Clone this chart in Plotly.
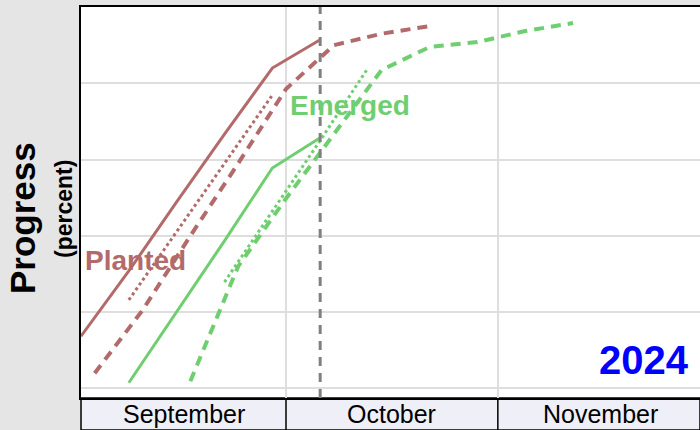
import pandas as pd
import plotly.graph_objects as go

# ---------------- data ----------------
year_label = "2024"
current_week = "2024-10-06"

planted_cur_dates = ["2024-09-01", "2024-09-08", "2024-09-15", "2024-09-22", "2024-09-29", "2024-10-06"]
planted_cur_vals = [13.7, 30.8, 48.9, 66.7, 84.0, 91.4]

planted_dot_dates = ["2024-09-08", "2024-09-15", "2024-09-22", "2024-09-29"]
planted_dot_vals = [23.2, 41.0, 59.0, 76.9]

planted_dash_dates = ["2024-09-03", "2024-09-10", "2024-09-17", "2024-09-24", "2024-10-01",
                      "2024-10-08", "2024-10-15", "2024-10-22"]
planted_dash_vals = [4.0, 20.5, 40.0, 59.0, 78.5, 90.0, 93.0, 95.0]

emerged_cur_dates = ["2024-09-08", "2024-09-15", "2024-09-22", "2024-09-29", "2024-10-06"]
emerged_cur_vals = [1.5, 20.0, 38.7, 57.8, 65.7]

emerged_dot_dates = ["2024-09-22", "2024-09-29", "2024-10-06", "2024-10-13"]
emerged_dot_vals = [27.9, 46.5, 65.0, 84.0]

emerged_dash_dates = ["2024-09-17", "2024-09-24", "2024-10-01", "2024-10-08", "2024-10-15",
                      "2024-10-22", "2024-10-29", "2024-11-05", "2024-11-12"]
emerged_dash_vals = [1.9, 32.0, 49.8, 66.8, 83.5, 89.5, 90.8, 93.7, 95.8]

x_range = ["2024-09-01", "2024-11-30 14:00"]
y_range = [-2.5, 100]
month_starts = ["2024-09-01", "2024-10-01", "2024-11-01", "2024-12-01"]
month_labels = ["September", "October", "November"]

# ---------------- style ----------------
PLANT = "#b36a6a"
EMERG = "#6fce6f"
FONT = "Liberation Sans, Arial, sans-serif"

fig = go.Figure()

def add(dates, vals, color, dash, width):
    fig.add_trace(go.Scatter(x=dates, y=vals, mode="lines",
                             line=dict(color=color, width=width, dash=dash),
                             showlegend=False, hoverinfo="skip"))

add(planted_dash_dates, planted_dash_vals, PLANT, "10px,7px", 4)
add(planted_dot_dates, planted_dot_vals, PLANT, "3px,3px", 3)
add(planted_cur_dates, planted_cur_vals, PLANT, "solid", 3)
add(emerged_dash_dates, emerged_dash_vals, EMERG, "10px,7px", 4)
add(emerged_dot_dates, emerged_dot_vals, EMERG, "3px,3px", 3)
add(emerged_cur_dates, emerged_cur_vals, EMERG, "solid", 3)

W, H = 700, 430
ml, mr, mt, mb = 81, 0, 7, 32
ph = H - mt - mb
band = mb / ph

shapes = [
    dict(type="rect", xref="paper", yref="paper", x0=0, x1=1, y0=-band, y1=0,
         fillcolor="#efeff7", line=dict(color="black", width=1.5), layer="below"),
    dict(type="line", xref="x", yref="y", x0=current_week, x1=current_week,
         y0=y_range[0], y1=y_range[1], line=dict(color="#808080", width=3, dash="9px,7px")),
]
for m in month_starts[1:-1]:
    shapes.append(dict(type="line", xref="x", yref="paper", x0=m, x1=m, y0=-band, y1=0,
                       line=dict(color="black", width=1.5)))

annotations = [
    dict(text="<b>Progress</b>", xref="paper", yref="paper", x=-59 / 619, y=(398 - 218) / ph,
         showarrow=False, textangle=-90, font=dict(size=35, color="black", family=FONT),
         xanchor="center", yanchor="middle"),
    dict(text="<b>(percent)</b>", xref="paper", yref="paper", x=-17 / 619, y=(398 - 209) / ph,
         showarrow=False, textangle=-90, font=dict(size=23, color="black", family=FONT),
         xanchor="center", yanchor="middle"),
    dict(text="<b>Planted</b>", xref="paper", yref="paper", x=2 / 619, y=(398 - 260) / ph,
         showarrow=False, font=dict(size=28, color=PLANT, family=FONT),
         xanchor="left", yanchor="middle"),
    dict(text="<b>Emerged</b>", xref="paper", yref="paper", x=(288 - 81) / 619, y=(398 - 105) / ph,
         showarrow=False, font=dict(size=28, color=EMERG, family=FONT),
         xanchor="left", yanchor="middle"),
    dict(text="<b>" + year_label + "</b>", xref="paper", yref="paper", x=(691 - 81) / 619,
         y=(398 - 360) / ph, showarrow=False, font=dict(size=40, color="#0000ff", family=FONT),
         xanchor="right", yanchor="middle"),
]
for i, name in enumerate(month_labels):
    a = pd.Timestamp(month_starts[i])
    b = pd.Timestamp(month_starts[i + 1])
    mid = a + (b - a) / 2
    annotations.append(dict(text=name, xref="x", yref="paper", x=mid.strftime("%Y-%m-%d %H:%M"),
                            y=-band / 2, showarrow=False, xanchor="center", yanchor="middle",
                            font=dict(size=25, color="black", family=FONT)))

fig.update_layout(
    width=W, height=H,
    margin=dict(l=ml, r=mr, t=mt, b=mb, pad=0, autoexpand=False),
    paper_bgcolor="#e5e5e5", plot_bgcolor="white",
    shapes=shapes, annotations=annotations,
    xaxis=dict(type="date", range=x_range, tick0="2024-09-01", dtick="M1",
               showticklabels=False, ticks="", automargin=False,
               showgrid=True, gridcolor="#dedede", gridwidth=2,
               showline=True, linecolor="black", linewidth=2, mirror=True, zeroline=False),
    yaxis=dict(range=y_range, dtick=20, tick0=0, showticklabels=False, ticks="", automargin=False,
               showgrid=True, gridcolor="#dedede", gridwidth=2,
               showline=True, linecolor="black", linewidth=2, mirror=True, zeroline=False),
)

fig.write_html("out.html", config={"displayModeBar": False},
               post_script="document.body.style.margin='0';")
